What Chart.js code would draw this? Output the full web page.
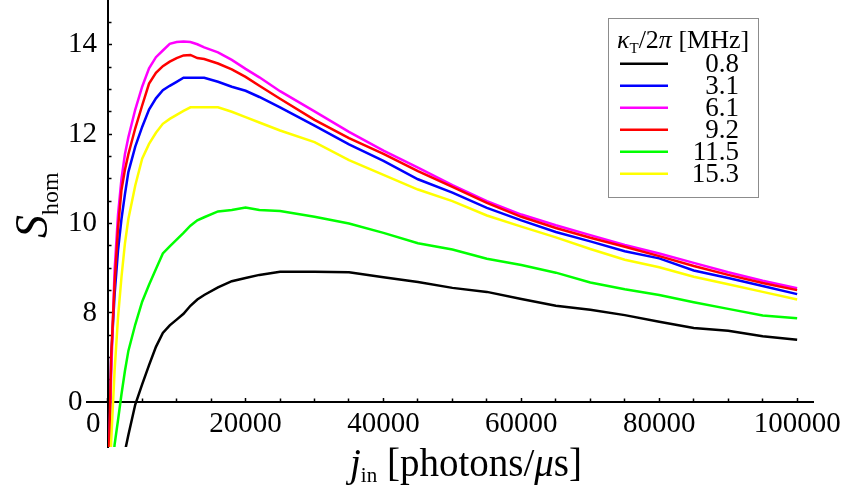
<!DOCTYPE html>
<html>
<head>
<meta charset="utf-8">
<script src="https://cdn.jsdelivr.net/npm/chart.js@4.4.1/dist/chart.umd.min.js"></script>
<style>
  html, body { margin: 0; padding: 0; background: #fff; }
  #wrap { width: 844px; height: 499px; position: relative; }
</style>
</head>
<body>
<div id="wrap"><canvas id="grafico"></canvas></div>
<script>
// j_in en fotones/us
var jIn = [0, 500, 1000, 1500, 2000, 2500, 3000, 4000, 5000, 6000, 7000, 8000, 9000, 10000,
  11000, 12000, 13000, 14000, 16000, 18000, 20000, 22000, 25000, 30000, 35000, 40000, 45000,
  50000, 55000, 60000, 65000, 70000, 75000, 80000, 85000, 90000, 95000, 100000];

// kappa_T / 2pi [MHz]
var kappaLabels = ['0.8', '3.1', '6.1', '9.2', '11.5', '15.3'];
var colores = ['#000000', '#0000ff', '#ff00ff', '#ff0000', '#00ff00', '#ffff00'];

var sK08 = [1.5, 2.8, 3.6, 4.1, 4.5, 4.9, 5.27, 5.95, 6.40, 6.83, 7.24, 7.55, 7.72, 7.85,
  7.98, 8.16, 8.30, 8.40, 8.57, 8.71, 8.78, 8.85, 8.92, 8.92, 8.91, 8.80, 8.69,
  8.56, 8.47, 8.31, 8.16, 8.07, 7.95, 7.80, 7.66, 7.60, 7.48, 7.40];
var sK31 = [3.0, 7.0, 8.4, 9.4, 10.1, 10.65, 11.15, 11.72, 12.16, 12.55, 12.80, 12.98, 13.08, 13.17,
  13.26, 13.26, 13.26, 13.26, 13.17, 13.06, 12.97, 12.83, 12.60, 12.19, 11.77, 11.40, 10.99,
  10.69, 10.35, 10.07, 9.81, 9.60, 9.38, 9.22, 8.95, 8.78, 8.60, 8.42];
var sK61 = [3.4, 6.6, 8.95, 10.2, 11.0, 11.55, 11.93, 12.55, 13.06, 13.47, 13.72, 13.87, 14.02, 14.06,
  14.07, 14.06, 14.01, 13.94, 13.83, 13.66, 13.46, 13.27, 12.96, 12.51, 12.05, 11.63, 11.25,
  10.86, 10.50, 10.20, 9.96, 9.74, 9.52, 9.33, 9.12, 8.91, 8.72, 8.55];
var sK92 = [3.5, 7.0, 8.65, 9.9, 10.75, 11.2, 11.55, 12.13, 12.64, 13.13, 13.37, 13.52, 13.62, 13.70,
  13.76, 13.77, 13.70, 13.68, 13.58, 13.45, 13.28, 13.08, 12.79, 12.32, 11.91, 11.56, 11.17,
  10.82, 10.46, 10.15, 9.90, 9.68, 9.48, 9.27, 9.05, 8.85, 8.67, 8.51];
var sK115 = [2.5, 4.2, 5.05, 5.6, 6.18, 6.7, 7.15, 7.74, 8.25, 8.63, 8.98, 9.33, 9.49, 9.64,
  9.79, 9.95, 10.07, 10.14, 10.27, 10.30, 10.36, 10.30, 10.28, 10.15, 10.00, 9.79, 9.56,
  9.42, 9.21, 9.07, 8.90, 8.68, 8.53, 8.40, 8.24, 8.09, 7.94, 7.88];
var sK153 = [2.5, 5.1, 6.7, 7.9, 8.8, 9.55, 10.1, 10.85, 11.45, 11.78, 12.03, 12.23, 12.34, 12.43,
  12.52, 12.60, 12.60, 12.60, 12.60, 12.50, 12.38, 12.26, 12.08, 11.82, 11.42, 11.09, 10.76,
  10.50, 10.18, 9.93, 9.69, 9.43, 9.19, 9.02, 8.81, 8.64, 8.47, 8.30];
var series = [sK08, sK31, sK61, sK92, sK115, sK153];

// Marcas de los ejes (el eje Y tiene un corte: la marca en 6 se rotula "0")
var xTicksMayores = [0, 20000, 40000, 60000, 80000, 100000];
var xTicksMenores = [5000, 10000, 15000, 25000, 30000, 35000, 45000, 50000, 55000,
  65000, 70000, 75000, 85000, 90000, 95000];
var yTicksMayores = [6, 8, 10, 12, 14];
var yTicksMenores = [6.5, 7, 7.5, 8.5, 9, 9.5, 10.5, 11, 11.5, 12.5, 13, 13.5, 14.5];

var serif = '"Liberation Serif", "Times New Roman", serif';

function fijarTicks(lista) {
  return function (scale) {
    scale.ticks = lista.map(function (v) { return { value: v }; });
  };
}

// los ejes van dentro del área del gráfico: que no reserven espacio
function sinEspacio(scale) {
  if (scale.isHorizontal()) scale.height = 0; else scale.width = 0;
  scale.paddingTop = 0;
  scale.paddingBottom = 0;
  scale.paddingLeft = 0;
  scale.paddingRight = 0;
}

var datasets = series.map(function (vals, i) {
  return {
    label: kappaLabels[i],
    data: vals.map(function (v, k) { return { x: jIn[k], y: v }; }),
    borderColor: colores[i],
    backgroundColor: colores[i],
    borderWidth: 2.5,
    pointRadius: 0,
    tension: 0,
    fill: false,
    order: series.length - i
  };
});

// Dibuja trozos de texto seguidos (para subíndices)
function trozos(ctx, x, y, partes) {
  partes.forEach(function (p) {
    ctx.font = p.font;
    ctx.fillText(p.text, x, y + (p.dy || 0));
    x += ctx.measureText(p.text).width;
  });
  return x;
}

var extras = {
  id: 'extras',
  afterDraw: function (chart) {
    var ctx = chart.ctx;
    ctx.save();
    ctx.fillStyle = '#000';
    ctx.textBaseline = 'alphabetic';
    ctx.textAlign = 'left';

    // título eje X
    trozos(ctx, 350, 476, [
      { text: 'j', font: 'italic 39px ' + serif },
      { text: 'in', font: '21px ' + serif, dy: 6 },
      { text: ' [photons/', font: '39px ' + serif },
      { text: 'μ', font: 'italic 39px ' + serif },
      { text: 's]', font: '39px ' + serif }
    ]);

    // título eje Y
    ctx.save();
    ctx.translate(47, 238);
    ctx.rotate(-Math.PI / 2);
    trozos(ctx, 0, 0, [
      { text: 'S', font: 'italic 46px ' + serif },
      { text: 'hom', font: '24px ' + serif, dy: 11 }
    ]);
    ctx.restore();

    // leyenda
    ctx.strokeStyle = '#8c8c8c';
    ctx.lineWidth = 1;
    ctx.strokeRect(608.5, 18.5, 150, 179);
    trozos(ctx, 617, 47.5, [
      { text: 'κ', font: 'italic 26px ' + serif },
      { text: 'T', font: '15px ' + serif, dy: 5 },
      { text: '/2', font: '26px ' + serif },
      { text: 'π', font: 'italic 26px ' + serif },
      { text: ' [MHz]', font: '26px ' + serif }
    ]);
    ctx.font = '27px ' + serif;
    ctx.textAlign = 'right';
    chart.data.datasets.forEach(function (ds, i) {
      var base = 71.7 + i * 22;
      ctx.strokeStyle = ds.borderColor;
      ctx.lineWidth = 2.5;
      ctx.beginPath();
      ctx.moveTo(620, base - 8);
      ctx.lineTo(668, base - 8);
      ctx.stroke();
      ctx.fillText(ds.label, 739, base);
    });
    ctx.restore();
  }
};

var ctx = document.getElementById('grafico').getContext('2d');
var grafico = new Chart(ctx, {
  type: 'line',
  data: { datasets: datasets },
  options: {
    responsive: true,
    maintainAspectRatio: false,
    animation: false,
    layout: { padding: { left: 87, top: 0, right: 31, bottom: 52 } },
    plugins: { legend: { display: false }, tooltip: { enabled: false } },
    scales: {
      x: {
        type: 'linear', axis: 'x', min: -3000, max: 102300,
        position: { y: 6 },
        afterBuildTicks: fijarTicks(xTicksMayores),
        afterFit: sinEspacio,
        ticks: {
          autoSkip: false, maxRotation: 0, minRotation: 0, padding: 10,
          color: '#000', font: { family: serif, size: 29 },
          callback: function (v) { return v === 0 ? '0    ' : String(v); }
        },
        grid: { drawOnChartArea: false, tickLength: -5, tickColor: '#000', tickWidth: 1.5 },
        border: { color: '#000', width: 2 }
      },
      xMenor: {
        type: 'linear', axis: 'x', min: -3000, max: 102300,
        position: { y: 6 },
        afterBuildTicks: fijarTicks(xTicksMenores),
        afterFit: sinEspacio,
        ticks: { display: false },
        grid: { drawOnChartArea: false, tickLength: -3.5, tickColor: '#000', tickWidth: 1.5 },
        border: { display: false }
      },
      y: {
        type: 'linear', axis: 'y', min: 5, max: 15,
        position: { x: 0 },
        afterBuildTicks: fijarTicks(yTicksMayores),
        afterFit: sinEspacio,
        ticks: { display: false },
        grid: { drawOnChartArea: false, tickLength: -5, tickColor: '#000', tickWidth: 1.5 },
        border: { color: '#000', width: 2 }
      },
      // rótulos del eje Y (a la izquierda de la línea del eje)
      yRotulos: {
        type: 'linear', axis: 'y', min: 5, max: 15,
        position: 'left',
        afterBuildTicks: fijarTicks(yTicksMayores),
        afterFit: sinEspacio,
        ticks: {
          autoSkip: false, mirror: true, crossAlign: 'far', padding: -19,
          color: '#000', font: { family: serif, size: 29 },
          callback: function (v) { return v === 6 ? '0  ' : String(v); }
        },
        grid: { display: false, drawTicks: false },
        border: { display: false }
      },
      yMenor: {
        type: 'linear', axis: 'y', min: 5, max: 15,
        position: { x: 0 },
        afterBuildTicks: fijarTicks(yTicksMenores),
        afterFit: sinEspacio,
        ticks: { display: false },
        grid: { drawOnChartArea: false, tickLength: -3.5, tickColor: '#000', tickWidth: 1.5 },
        border: { display: false }
      }
    }
  },
  plugins: [extras]
});
</script>
</body>
</html>
